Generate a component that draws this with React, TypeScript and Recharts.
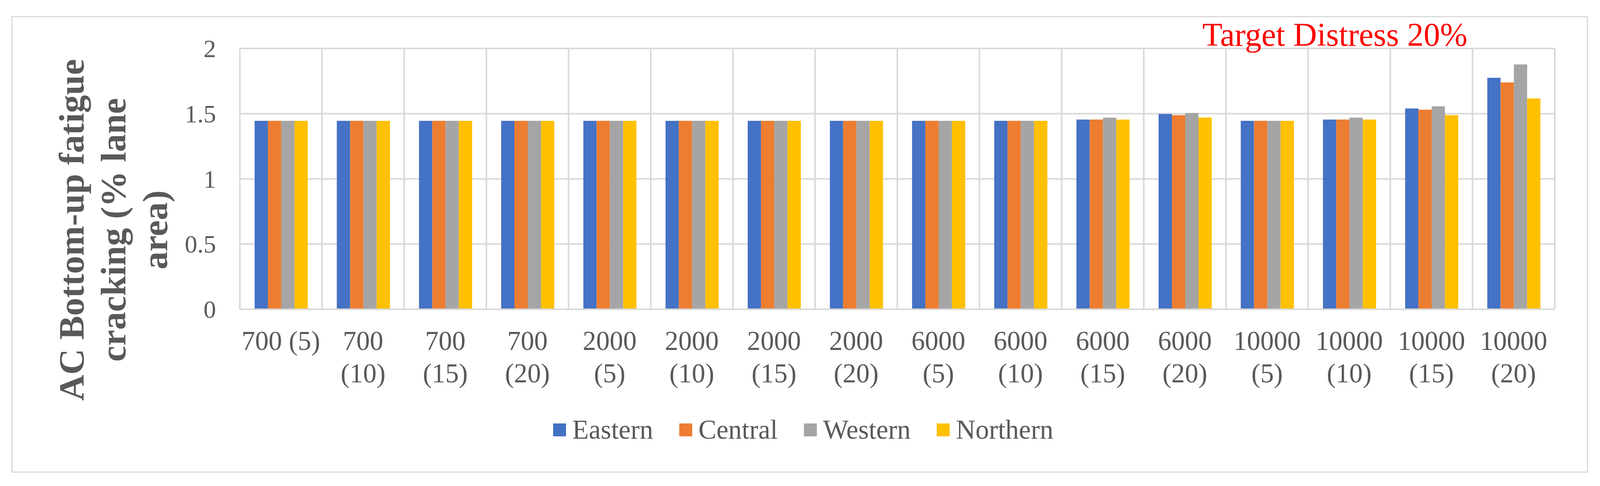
import React from "react";
import { BarChart, Bar, XAxis, YAxis, CartesianGrid, Legend } from "recharts";

const categories = [
  "700 (5)", "700 (10)", "700 (15)", "700 (20)",
  "2000 (5)", "2000 (10)", "2000 (15)", "2000 (20)",
  "6000 (5)", "6000 (10)", "6000 (15)", "6000 (20)",
  "10000 (5)", "10000 (10)", "10000 (15)", "10000 (20)",
];

const tickLabels = [
  "700 (5)", "700\n(10)", "700\n(15)", "700\n(20)",
  "2000\n(5)", "2000\n(10)", "2000\n(15)", "2000\n(20)",
  "6000\n(5)", "6000\n(10)", "6000\n(15)", "6000\n(20)",
  "10000\n(5)", "10000\n(10)", "10000\n(15)", "10000\n(20)",
];

const eastern = [1.445, 1.445, 1.445, 1.445, 1.445, 1.445, 1.445, 1.445, 1.445, 1.445, 1.455, 1.498, 1.445, 1.455, 1.54, 1.775];
const central = [1.445, 1.445, 1.445, 1.445, 1.445, 1.445, 1.445, 1.445, 1.445, 1.445, 1.455, 1.489, 1.445, 1.455, 1.531, 1.74];
const western = [1.445, 1.445, 1.445, 1.445, 1.445, 1.445, 1.445, 1.445, 1.445, 1.445, 1.47, 1.505, 1.445, 1.47, 1.556, 1.878];
const northern = [1.445, 1.445, 1.445, 1.445, 1.445, 1.445, 1.445, 1.445, 1.445, 1.445, 1.455, 1.471, 1.445, 1.455, 1.489, 1.617];

const yTicks = [0, 0.5, 1, 1.5, 2];

const seriesNames = ["Eastern", "Central", "Western", "Northern"];
const seriesColors = ["#4472C4", "#ED7D31", "#A5A5A5", "#FFC000"];

const data = categories.map((c, i) => ({
  category: c,
  Eastern: eastern[i],
  Central: central[i],
  Western: western[i],
  Northern: northern[i],
}));

const FONT = '"Liberation Serif", "Times New Roman", serif';
const TEXT = "#595959";
const GRID = "#D9D9D9";

const XTick = (props: any) => {
  const { x, y, payload } = props;
  const idx = categories.indexOf(payload.value);
  const lines = (tickLabels[idx] ?? String(payload.value)).split("\n");
  return (
    <text x={x} y={y} textAnchor="middle" fill={TEXT} fontSize={69} fontFamily={FONT}>
      {lines.map((l, i) => (
        <tspan key={i} x={x} y={y + 104 + i * 83}>
          {l}
        </tspan>
      ))}
    </text>
  );
};

const YTick = (props: any) => {
  const { x, y, payload } = props;
  return (
    <text x={x - 61} y={y} dy={22} textAnchor="end" fill={TEXT} fontSize={64} fontFamily={FONT}>
      {String(payload.value)}
    </text>
  );
};

const LegendContent = () => (
  <div
    style={{
      display: "flex",
      justifyContent: "flex-start",
      alignItems: "center",
      fontFamily: FONT,
      fontSize: 69,
      lineHeight: "69px",
      color: TEXT,
      paddingLeft: 416,
    }}
  >
    {seriesNames.map((n, i) => (
      <div key={n} style={{ display: "flex", alignItems: "center", marginLeft: i === 0 ? 0 : 67 }}>
        <div style={{ width: 33, height: 33, background: seriesColors[i], marginRight: 16 }} />
        <span>{n}</span>
      </div>
    ))}
  </div>
);

export default function App() {
  return (
    <div
      style={{
        position: "absolute",
        left: 0,
        top: 0,
        width: 4103,
        height: 1243,
        background: "#FFFFFF",
        overflow: "hidden",
      }}
    >
      <div
        style={{
          position: "absolute",
          left: 29,
          top: 41,
          width: 4036,
          height: 1168,
          border: `3px solid ${GRID}`,
          boxSizing: "border-box",
        }}
      />
      <div style={{ position: "absolute", left: 0, top: 0 }}>
        <BarChart
          width={4103}
          height={1243}
          data={data}
          margin={{ top: 124, right: 123, bottom: 252, left: 314 }}
          barCategoryGap="18%"
          barGap={0}
        >
          <CartesianGrid
            stroke={GRID}
            strokeWidth={4}
            verticalCoordinatesGenerator={({ offset }: any) =>
              Array.from({ length: categories.length + 1 }, (_, i) => offset.left + (i * offset.width) / categories.length)
            }
          />
          <XAxis
            dataKey="category"
            interval={0}
            height={200}
            tickLine={false}
            tickSize={0}
            tickMargin={0}
            axisLine={{ stroke: GRID, strokeWidth: 4 }}
            tick={<XTick />}
          />
          <YAxis
            domain={[0, 2]}
            ticks={yTicks}
            width={300}
            axisLine={false}
            tickLine={false}
            tickSize={0}
            tickMargin={0}
            tick={<YTick />}
          />
          <Legend
            layout="horizontal"
            verticalAlign="middle"
            align="center"
            content={<LegendContent />}
            wrapperStyle={{ left: 1000, top: 1065, width: 2400, height: 69 }}
          />
          {seriesNames.map((n, i) => (
            <Bar key={n} dataKey={n} fill={seriesColors[i]} isAnimationActive={false} />
          ))}
        </BarChart>
      </div>
      <svg
        width={4103}
        height={1243}
        style={{ position: "absolute", left: 0, top: 0, pointerEvents: "none" }}
      >
        <text
          transform="translate(0, 588) rotate(-90)"
          textAnchor="middle"
          fill={TEXT}
          fontSize={92}
          fontWeight="bold"
          fontFamily={FONT}
        >
          <tspan x={0} y={214}>AC Bottom-up fatigue</tspan>
          <tspan x={0} y={321}>cracking (% lane</tspan>
          <tspan x={0} y={428}>area)</tspan>
        </text>
        <text x={3078} y={117} fill="#FF0000" fontSize={84} fontFamily={FONT}>
          Target Distress 20%
        </text>
      </svg>
    </div>
  );
}
